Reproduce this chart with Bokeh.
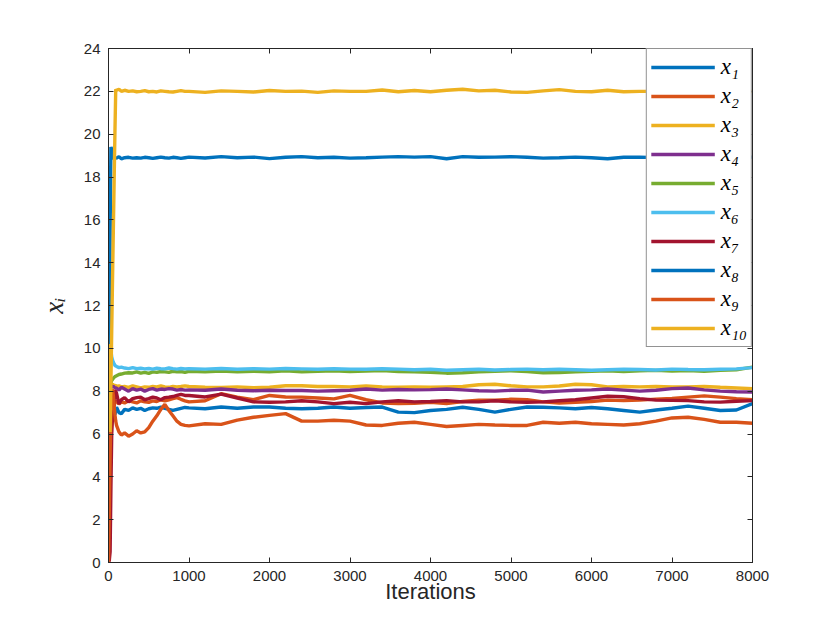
from bokeh.plotting import figure
from bokeh.models import LinearAxis, Legend, LegendItem, FixedTicker, Range1d, CustomJSTickFormatter
from bokeh.embed import file_html
from bokeh.resources import INLINE

iters = [0, 10, 20, 30, 40, 50, 60, 70, 80, 90, 100,
         130, 160, 200, 250, 300, 350, 400, 450, 500, 550, 600, 650, 700, 750, 800, 850, 900, 950, 1000,
         1200, 1400, 1600, 1800, 2000, 2200, 2400, 2600, 2800, 3000,
         3200, 3400, 3600, 3800, 4000, 4200, 4400, 4600, 4800, 5000,
         5200, 5400, 5600, 5800, 6000, 6200, 6400, 6600, 6800, 7000,
         7200, 7400, 7600, 7800, 8000]

x1 = [3.0, 5.0, 6.0, 6.6, 7.0, 6.95, 7.2, 7.0, 6.9, 7.1, 7.25,
      7.0, 6.95, 7.15, 7.1, 7.22, 7.15, 7.2, 7.1, 7.18, 7.22, 7.2, 7.25, 7.2, 7.15, 7.1, 7.15, 7.2, 7.24, 7.22,
      7.18, 7.26, 7.2, 7.26, 7.26, 7.2, 7.18, 7.2, 7.26, 7.2,
      7.24, 7.26, 7.02, 7.0, 7.1, 7.15, 7.25, 7.15, 7.02, 7.15,
      7.26, 7.25, 7.22, 7.18, 7.24, 7.18, 7.1, 7.02, 7.12, 7.2,
      7.3, 7.2, 7.1, 7.12, 7.42]
x2 = [5.0, 6.5, 7.0, 7.5, 7.8, 7.7, 7.4, 7.3, 7.45, 7.5, 7.55,
      7.4, 7.5, 7.45, 7.55, 7.5, 7.45, 7.55, 7.5, 7.48, 7.55, 7.52, 7.6, 7.55, 7.6, 7.65, 7.7, 7.62, 7.55, 7.5,
      7.55, 7.88, 7.72, 7.6, 7.8, 7.73, 7.72, 7.68, 7.64, 7.8,
      7.6, 7.45, 7.42, 7.43, 7.48, 7.42, 7.52, 7.58, 7.58, 7.62,
      7.6, 7.5, 7.44, 7.48, 7.52, 7.58, 7.56, 7.58, 7.63, 7.66,
      7.72, 7.78, 7.72, 7.65, 7.6]
x3 = [9.5, 8.8, 8.5, 8.35, 8.3, 8.35, 8.25, 8.3, 8.25, 8.28, 8.22,
      8.25, 8.2, 8.22, 8.18, 8.25, 8.2, 8.15, 8.2, 8.18, 8.22, 8.2, 8.25, 8.2, 8.18, 8.22, 8.2, 8.22, 8.25, 8.22,
      8.18, 8.17, 8.2, 8.16, 8.18, 8.25, 8.25, 8.22, 8.22, 8.2,
      8.24, 8.2, 8.18, 8.2, 8.18, 8.2, 8.22, 8.3, 8.32, 8.25,
      8.2, 8.2, 8.24, 8.32, 8.3, 8.2, 8.22, 8.2, 8.22, 8.2,
      8.2, 8.22, 8.18, 8.15, 8.12]
x4 = [7.5, 7.8, 8.0, 8.2, 8.25, 8.2, 8.25, 8.15, 8.2, 8.1, 8.15,
      8.05, 8.18, 8.1, 8.0, 8.12, 8.05, 8.1, 8.0, 8.08, 8.12, 8.05, 8.1, 8.08, 8.12, 8.1, 8.05, 8.08, 8.05, 8.06,
      8.04, 8.1, 8.04, 8.02, 8.04, 8.03, 8.03, 8.0, 8.02, 8.04,
      8.1, 8.05, 8.08, 8.06, 8.07, 8.1, 8.06, 8.02, 8.0, 8.04,
      8.05, 7.96, 8.0, 8.04, 8.06, 8.1, 8.05, 8.0, 8.04, 8.12,
      8.15, 8.06, 8.0, 7.97, 7.96]
x5 = [8.0, 8.2, 8.3, 8.4, 8.5, 8.55, 8.6, 8.64, 8.68, 8.7, 8.72,
      8.78, 8.8, 8.84, 8.86, 8.85, 8.9, 8.84, 8.88, 8.83, 8.9, 8.88, 8.92, 8.9, 8.88, 8.93, 8.9, 8.92, 8.88, 8.93,
      8.9, 8.94, 8.9, 8.93, 8.91, 8.95, 8.9, 8.93, 8.95, 8.92,
      8.94, 8.96, 8.92, 8.9, 8.88, 8.84, 8.86, 8.9, 8.93, 8.95,
      8.92, 8.86, 8.87, 8.9, 8.93, 8.95, 8.92, 8.95, 8.97, 8.94,
      8.96, 8.93, 8.97, 9.0, 9.12]
x6 = [15.2, 11.5, 10.2, 9.9, 9.6, 9.45, 9.35, 9.28, 9.2, 9.18, 9.15,
      9.1, 9.12, 9.08, 9.05, 9.1, 9.05, 9.07, 9.04, 9.06, 9.03, 9.07, 9.05, 9.04, 9.08, 9.05, 9.03, 9.06, 9.04, 9.05,
      9.03, 9.06, 9.02, 9.05, 9.03, 9.06, 9.04, 9.02, 9.05, 9.03,
      9.02, 9.05, 9.03, 9.0, 9.02, 8.98, 9.0, 9.02, 8.99, 9.01,
      9.03, 9.0, 9.02, 9.0, 8.98, 9.0, 9.02, 9.01, 8.99, 9.03,
      9.01, 9.0, 9.02, 9.04, 9.1]
x7 = [0.0, 0.1, 0.5, 3.5, 6.0, 6.8, 7.0, 7.6, 8.0, 8.0, 7.9,
      7.4, 7.6, 7.7, 7.5, 7.65, 7.7, 7.72, 7.6, 7.65, 7.72, 7.68, 7.6, 7.7, 7.72, 7.75, 7.8, 7.85, 7.8, 7.8,
      7.73, 7.86, 7.68, 7.5, 7.48, 7.5, 7.55, 7.5, 7.42, 7.48,
      7.42, 7.5, 7.55, 7.5, 7.52, 7.56, 7.5, 7.5, 7.55, 7.5,
      7.48, 7.5, 7.55, 7.6, 7.68, 7.76, 7.74, 7.65, 7.58, 7.57,
      7.56, 7.5, 7.49, 7.53, 7.56]
x8 = [4.0, 10.0, 15.5, 19.4, 19.3, 18.9, 18.85, 18.9, 18.85, 18.9, 18.88,
      18.95, 18.85, 18.9, 18.92, 18.88, 18.9, 18.88, 18.92, 18.9, 18.87, 18.9, 18.93, 18.9, 18.88, 18.92, 18.9, 18.87, 18.9, 18.93,
      18.89, 18.95, 18.9, 18.93, 18.86, 18.92, 18.95, 18.9, 18.92, 18.88,
      18.9, 18.93, 18.95, 18.93, 18.95, 18.85, 18.95, 18.92, 18.93, 18.95,
      18.92, 18.88, 18.9, 18.93, 18.9, 18.85, 18.92, 18.93, 18.9, 18.92,
      18.9, 18.93, 18.9, 18.92, 18.93]
x9 = [0.0, 2.5, 5.0, 7.0, 7.9, 8.1, 7.8, 7.3, 6.9, 6.6, 6.4,
      6.1, 5.95, 6.05, 5.9, 6.0, 6.15, 6.05, 6.1, 6.3, 6.6, 6.85, 7.15, 7.38, 7.1, 6.85, 6.6, 6.45, 6.4, 6.38,
      6.48, 6.45, 6.65, 6.78, 6.87, 6.95, 6.6, 6.6, 6.64, 6.6,
      6.42, 6.4, 6.5, 6.55, 6.45, 6.35, 6.4, 6.45, 6.42, 6.4,
      6.4, 6.55, 6.5, 6.55, 6.48, 6.45, 6.42, 6.48, 6.6, 6.75,
      6.78, 6.68, 6.55, 6.55, 6.5]
x10 = [10.2, 7.0, 6.1, 8.4, 10.8, 13.2, 15.5, 17.8, 20.1, 22.1, 22.05,
       22.1, 22.0, 22.05, 22.0, 22.02, 21.98, 22.0, 22.03, 21.98, 22.0, 21.97, 22.02, 22.0, 21.98, 21.97, 22.0, 22.03, 22.0, 22.0,
       21.95, 22.02, 22.0, 21.97, 22.04, 22.0, 22.01, 21.95, 22.02, 22.0,
       22.0, 22.06, 21.98, 22.04, 21.98, 22.05, 22.1, 22.02, 22.05, 21.97,
       21.95, 22.02, 22.08, 22.0, 21.98, 22.05, 21.98, 22.0, 22.0, 22.02,
       21.98, 22.0, 22.02, 22.0, 22.0]

series = [x1, x2, x3, x4, x5, x6, x7, x8, x9, x10]
labels = ["x\u2081", "x\u2082", "x\u2083", "x\u2084", "x\u2085",
          "x\u2086", "x\u2087", "x\u2088", "x\u2089", "x\u2081\u2080"]
colors = ["#0072BD", "#D95319", "#EDB120", "#7E2F8E", "#77AC30",
          "#4DBEEE", "#A2142F", "#0072BD", "#D95319", "#EDB120"]
x_ticks = [0, 1000, 2000, 3000, 4000, 5000, 6000, 7000, 8000]
y_ticks = [0, 2, 4, 6, 8, 10, 12, 14, 16, 18, 20, 22, 24]

for s in series:
    assert len(s) == len(iters), len(s)

AX = "#262626"
p = figure(width=828, height=628, x_range=Range1d(0, 8000), y_range=Range1d(0, 24),
           output_backend="svg", toolbar_location=None,
           min_border_left=108, min_border_right=76, min_border_top=48, min_border_bottom=66)
p.background_fill_color = "white"
p.border_fill_color = "white"
p.outline_line_color = AX
p.outline_line_width = 1
p.xgrid.visible = False
p.ygrid.visible = False

def style_axis(ax):
    ax.major_tick_in = 5
    ax.major_tick_out = 0
    ax.minor_tick_line_color = None
    ax.axis_line_color = AX
    ax.major_tick_line_color = AX
    ax.major_label_text_color = AX
    ax.major_label_text_font = "Liberation Sans"
    ax.major_label_text_font_size = "15px"
    ax.major_label_standoff = 8

p.xaxis.ticker = FixedTicker(ticks=x_ticks)
p.yaxis.ticker = FixedTicker(ticks=y_ticks)
style_axis(p.xaxis[0])
style_axis(p.yaxis[0])
p.xaxis.axis_label = "Iterations"
p.xaxis.axis_label_text_font = "Liberation Sans"
p.xaxis.axis_label_text_font_style = "normal"
p.xaxis.axis_label_text_font_size = "22px"
p.xaxis.axis_label_text_color = AX
p.xaxis.axis_label_standoff = -5
p.yaxis.axis_label = "x\u1d62"
p.yaxis.axis_label_text_font = "Liberation Serif"
p.yaxis.axis_label_text_font_style = "italic"
p.yaxis.axis_label_text_font_size = "27px"
p.yaxis.axis_label_text_color = AX
p.yaxis.axis_label_standoff = 12

blank = CustomJSTickFormatter(code="return '';")
top = LinearAxis(ticker=FixedTicker(ticks=x_ticks), formatter=blank)
style_axis(top)
top.major_label_standoff = 0
p.add_layout(top, "above")
right = LinearAxis(ticker=FixedTicker(ticks=y_ticks), formatter=blank)
style_axis(right)
right.major_label_standoff = 0
p.add_layout(right, "right")

items = []
for s, lab, c in zip(series, labels, colors):
    r = p.line(iters, s, line_width=3.4, color=c)
    items.append(LegendItem(label=lab, renderers=[r]))

legend = Legend(items=items, location="top_right", margin=0, padding=4, spacing=1,
                glyph_width=64, glyph_height=28, label_height=28, label_standoff=6,
                label_text_font="Liberation Serif", label_text_font_style="italic",
                label_text_font_size="23px", label_text_color="black",
                border_line_color=AX, border_line_width=1,
                background_fill_color="white", background_fill_alpha=1.0)
p.add_layout(legend, "center")

open("out.html", "w").write(file_html(p, INLINE))
